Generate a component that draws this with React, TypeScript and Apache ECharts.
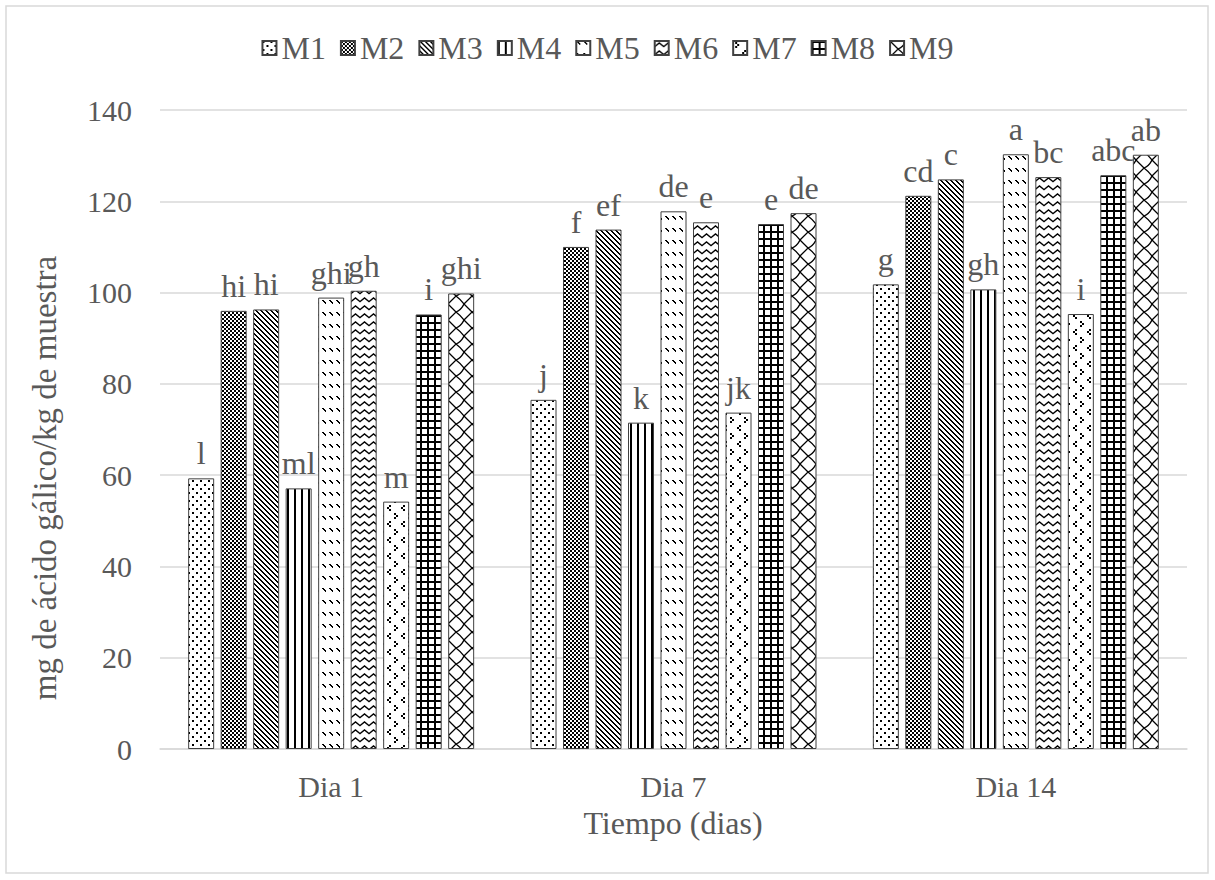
import React, { useEffect, useRef } from "react";
import * as echarts from "echarts";

const categories = ["Dia 1", "Dia 7", "Dia 14"];
const seriesNames = ["M1", "M2", "M3", "M4", "M5", "M6", "M7", "M8", "M9"];
const m1 = [59.3, 76.5, 101.8];
const m2 = [96.0, 110.0, 121.2];
const m3 = [96.3, 113.8, 124.8];
const m4 = [57.1, 71.5, 100.7];
const m5 = [98.9, 117.8, 130.3];
const m6 = [100.4, 115.4, 125.3];
const m7 = [54.2, 73.7, 95.3];
const m8 = [95.2, 115.0, 125.7];
const m9 = [99.8, 117.4, 130.2];
const seriesValues = [m1, m2, m3, m4, m5, m6, m7, m8, m9];

const l1 = ["l", "j", "g"];
const l2 = ["hi", "f", "cd"];
const l3 = ["hi", "ef", "c"];
const l4 = ["ml", "k", "gh"];
const l5 = ["ghi", "de", "a"];
const l6 = ["gh", "e", "bc"];
const l7 = ["m", "jk", "i"];
const l8 = ["i", "e", "abc"];
const l9 = ["ghi", "de", "ab"];
const letters = [l1, l2, l3, l4, l5, l6, l7, l8, l9];

const yTicks = { min: 0, max: 140, interval: 20 };

const FONT = "'Liberation Serif', 'Times New Roman', serif";
const TXT = "#595959";

type Draw = (ctx: CanvasRenderingContext2D) => void;
function tile(w: number, h: number, draw: Draw): HTMLCanvasElement {
  const c = document.createElement("canvas");
  c.width = w;
  c.height = h;
  const ctx = c.getContext("2d")!;
  ctx.fillStyle = "#ffffff";
  ctx.fillRect(0, 0, w, h);
  ctx.fillStyle = "#000000";
  ctx.strokeStyle = "#000000";
  draw(ctx);
  return c;
}

function makePatterns(): HTMLCanvasElement[] {
  return [
    // M1 sparse dots
    tile(8, 8, (c) => {
      c.fillRect(0, 0, 2, 2);
      c.fillRect(4, 4, 2, 2);
    }),
    // M2 checker
    tile(4, 4, (c) => {
      c.fillRect(0, 0, 2, 2);
      c.fillRect(2, 2, 2, 2);
    }),
    // M3 downward diagonal
    tile(5, 5, (c) => {
      for (let i = 0; i < 5; i++) {
        c.fillRect(i, i, 1, 1);
        c.fillRect((i + 1) % 5, i, 1, 1);
      }
    }),
    // M4 vertical lines
    tile(7, 4, (c) => {
      c.fillRect(0, 0, 2, 4);
    }),
    // M5 dashed downward diagonal
    tile(7, 12, (c) => {
      for (let i = 0; i < 4; i++) {
        c.fillRect(i, i, 1, 1);
      }
      c.fillRect(1, 0, 1, 1);
      c.fillRect(2, 1, 1, 1);
      c.fillRect(3, 2, 1, 1);
    }),
    // M6 wave
    tile(9, 8, (c) => {
      c.lineWidth = 1.4;
      c.beginPath();
      c.moveTo(-1, 6.5);
      c.lineTo(4.5, 2);
      c.lineTo(10, 6.5);
      c.stroke();
    }),
    // M7 chevrons
    tile(14, 16, (c) => {
      c.fillRect(2, 1, 2, 2);
      c.fillRect(4, 3, 2, 2);
      c.fillRect(2, 5, 2, 2);
      c.fillRect(11, 9, 2, 2);
      c.fillRect(9, 11, 2, 2);
      c.fillRect(11, 13, 2, 2);
    }),
    // M8 grid
    tile(7, 7, (c) => {
      c.fillRect(0, 0, 7, 2);
      c.fillRect(0, 0, 2, 7);
    }),
    // M9 shingle
    tile(16, 16, (c) => {
      c.lineWidth = 1.3;
      c.beginPath();
      c.moveTo(0, 0);
      c.lineTo(8, 8);
      c.quadraticCurveTo(12, 11, 16, 16);
      c.moveTo(16, 0);
      c.quadraticCurveTo(13, 6, 8, 8);
      c.lineTo(0, 16);
      c.stroke();
    }),
  ];
}

export default function App() {
  const ref = useRef<HTMLDivElement>(null);
  useEffect(() => {
    if (!ref.current) return;
    const chart = echarts.init(ref.current, null, { renderer: "svg" });
    const pats = makePatterns();
    const series = seriesNames.map((name, si) => ({
      name,
      type: "bar",
      data: seriesValues[si],
      barWidth: 26,
      barGap: "25%",
      itemStyle: {
        color: { image: pats[si], repeat: "repeat" },
        borderColor: "#404040",
        borderWidth: 1,
      },
      label: {
        show: true,
        position: "top",
        distance: 9,
        formatter: (p: any) => letters[si][p.dataIndex],
        color: TXT,
        fontFamily: FONT,
        fontSize: 32,
      },
    }));
    chart.setOption({
      animation: false,
      backgroundColor: "#ffffff",
      textStyle: { fontFamily: FONT },
      grid: { left: 160, right: 28, top: 110, bottom: 131, containLabel: false },
      legend: {
        top: 27,
        left: "center",
        icon: "rect",
        itemWidth: 14,
        itemHeight: 14,
        itemGap: 14,
        textStyle: { color: TXT, fontFamily: FONT, fontSize: 32 },
        data: seriesNames,
      },
      xAxis: {
        type: "category",
        data: categories,
        axisLine: { lineStyle: { color: "#d9d9d9", width: 1.5 } },
        axisTick: { show: false },
        axisLabel: { color: TXT, fontFamily: FONT, fontSize: 30, margin: 22 },
      },
      yAxis: {
        type: "value",
        min: yTicks.min,
        max: yTicks.max,
        interval: yTicks.interval,
        axisLine: { show: false },
        axisTick: { show: false },
        splitLine: { lineStyle: { color: "#d9d9d9", width: 1.5 } },
        axisLabel: { color: TXT, fontFamily: FONT, fontSize: 30, margin: 28 },
      },
      graphic: [
        {
          type: "rect",
          shape: { x: 6, y: 6, width: 1202, height: 867 },
          style: { fill: "none", stroke: "#d9d9d9", lineWidth: 1.5 },
          silent: true,
        },
        {
          type: "text",
          x: 45,
          y: 478,
          rotation: Math.PI / 2,
          style: {
            text: "mg de ácido gálico/kg de muestra",
            fill: TXT,
            font: `33px ${FONT}`,
            align: "center",
            verticalAlign: "middle",
          },
        },
        {
          type: "text",
          x: 673,
          y: 823,
          style: {
            text: "Tiempo (dias)",
            fill: TXT,
            font: `32px ${FONT}`,
            align: "center",
            verticalAlign: "middle",
          },
        },
      ],
      series,
    });
    return () => chart.dispose();
  }, []);
  return (
    <div
      ref={ref}
      style={{ position: "fixed", left: 0, top: 0, width: 1215, height: 880, background: "#fff" }}
    />
  );
}
